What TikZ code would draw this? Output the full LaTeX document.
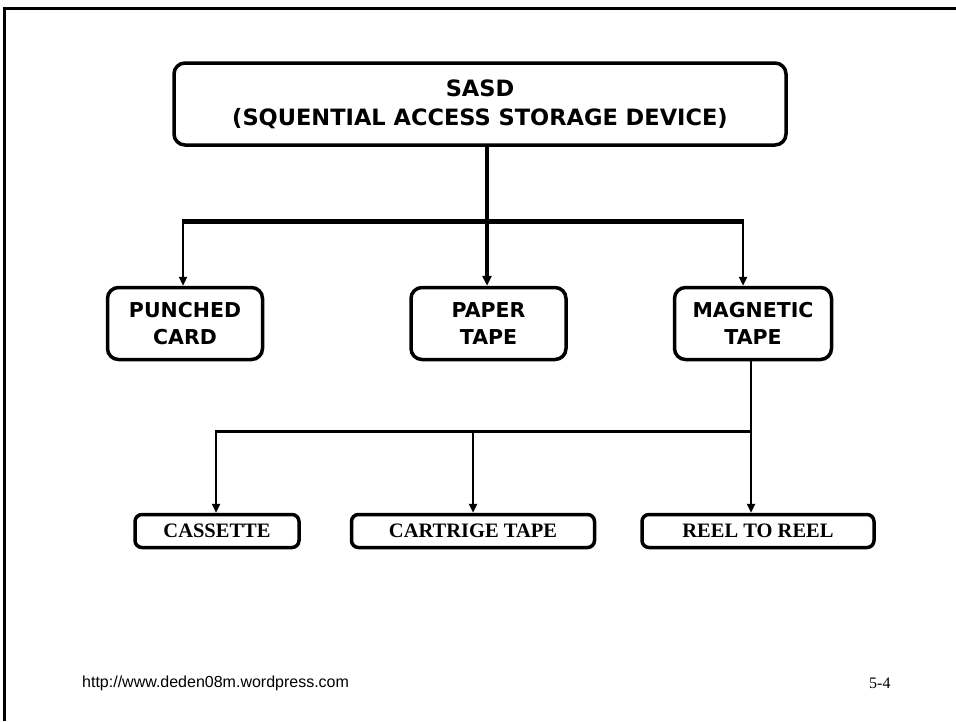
\documentclass[tikz,border=0pt]{standalone}
\usepackage{fontspec}
\setmainfont{Liberation Serif}
\newfontfamily\boxfont{DejaVu Sans}
\newfontfamily\footfont{Liberation Sans}
\usetikzlibrary{arrows.meta}
\begin{document}
\begin{tikzpicture}[x=1pt,y=-1pt,
  topbox/.style={draw,line width=3.5pt,rounded corners=11pt,align=center,inner sep=0pt,
    font=\boxfont\bfseries\fontsize{20.5}{26.5}\selectfont},
  lowbox/.style={draw,line width=3.5pt,rounded corners=7pt,align=center,inner sep=0pt,
    minimum height=33pt,font=\bfseries\fontsize{20.5}{24}\selectfont},
  conn/.style={line width=2.5pt},
  arr/.style={line width=2.5pt,-{Triangle[length=9pt,width=8pt]}},
  thickarr/.style={line width=3.5pt,-{Triangle[length=10pt,width=9pt]}}]
\useasboundingbox (0,0) rectangle (956,721);
% frame
\draw[line width=3pt] (4.5,721) -- (4.5,8.5) -- (956,8.5);
% top box
\node[topbox,minimum width=612pt,minimum height=82pt,
  font=\boxfont\bfseries\fontsize{22.5}{29}\selectfont] (sasd) at (480,104)
  {SASD\\(SQUENTIAL ACCESS STORAGE DEVICE)};
% level 2
\node[topbox,minimum width=155pt,minimum height=72pt] (pc) at (185,323.5) {PUNCHED\\CARD};
\node[topbox,minimum width=155pt,minimum height=72pt] (pt) at (488.5,323.5) {PAPER\\TAPE};
\node[topbox,minimum width=157pt,minimum height=72pt] (mt) at (753,323.5) {MAGNETIC\\TAPE};
% level 3
\node[lowbox,minimum width=164pt] (cas) at (217,531) {CASSETTE};
\node[lowbox,minimum width=243pt] (cart) at (473,531) {CARTRIGE TAPE};
\node[lowbox,minimum width=232pt] (reel) at (758,531) {REEL TO REEL};
% connectors level 1
\coordinate (b1) at (487,221);
\coordinate (bl) at (183,221);
\coordinate (br) at (743,221);
\draw[line width=3.5pt] (sasd.south -| b1) -- (b1);
\draw[line width=5pt] ([xshift=-1.25pt]bl) -- ([xshift=1.25pt]br);
\draw[arr] ([yshift=-2pt]bl) -- (bl |- pc.north);
\draw[thickarr] (b1) -- (b1 |- pt.north);
\draw[arr] ([yshift=-2pt]br) -- (br |- mt.north);
% connectors level 2
\coordinate (c1) at (751,431);
\coordinate (cl) at (216,431);
\coordinate (cm) at (473,431);
\draw[conn] (mt.south -| c1) -- (c1);
\draw[line width=3pt] ([xshift=-1.25pt]cl) -- (c1);
\draw[arr] ([yshift=-1.5pt]cl) -- (cl |- cas.north);
\draw[arr] (cm) -- (cm |- cart.north);
\draw[arr] (c1) -- (c1 |- reel.north);
% footer
\node[anchor=west,font=\footfont\fontsize{16}{18}\selectfont,inner sep=0pt] (url) at (82,683)
  {http://www.deden08m.wordpress.com};
\node[anchor=west,font=\fontsize{16}{18}\selectfont,inner sep=0pt] (pg) at (869,683) {5-4};
\end{tikzpicture}
\end{document}
